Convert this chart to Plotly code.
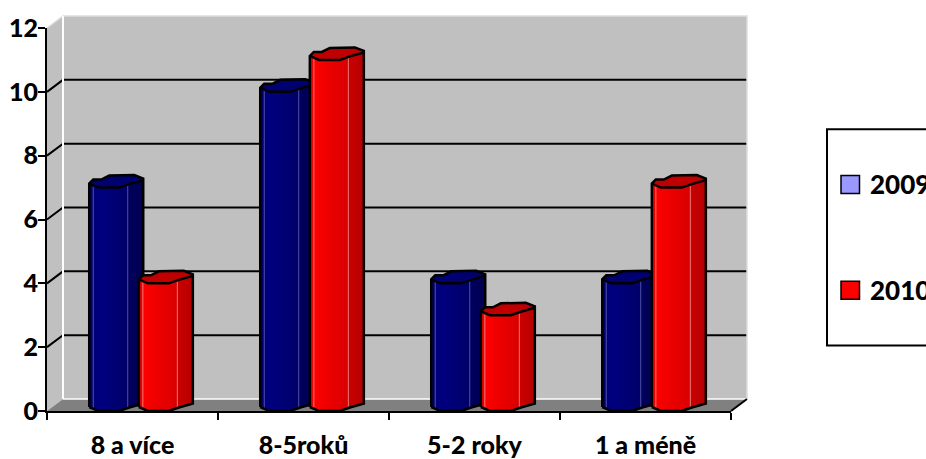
import plotly.graph_objects as go

# Chart data
categories = ["8 a více", "8-5roků", "5-2 roky", "1 a méně"]
series_names = ["2009", "2010"]
values_2009 = [7, 10, 4, 4]
values_2010 = [4, 11, 3, 7]
y_ticks = [0, 2, 4, 6, 8, 10, 12]

# Page and plot geometry (pixels)
WIDTH, HEIGHT = 926, 459
M_L, M_R, M_T, M_B = 47, 195, 28, 47.5
PX_X = WIDTH - M_L - M_R
PX_Y = HEIGHT - M_T - M_B
X_MAX, Y_MAX = 4, 12
UX = X_MAX / PX_X      # data units per horizontal pixel
UY = Y_MAX / PX_Y      # data units per vertical pixel

# Perspective depth of the box, as fractions of the plot area
DX = 16 / PX_X
DY = 12 / PX_Y

# Column cross-section outline, in pixels from the column's left edge and value line
FRONT = [(0, 4), (9, 0), (30, 0), (40, 3.5), (54, 7.5)]
BACK = [(54, 9), (45, 12.5), (20, 12), (12, 8), (4, 8), (0, 4)]
FACE_EDGE = 38.5
COL_W = 54

STYLE = {
    "2009": dict(
        offset=0.247,
        stops=[(0, 0x5c), (4, 0x78), (10, 0x80), (38.5, 0x68), (38.6, 0x60), (54, 0x50)],
        rgb=lambda v: f"rgb(0,0,{v})",
        cap="#000070",
        seam="rgba(150,150,220,0.55)",
        swatch="#9999FF",
    ),
    "2010": dict(
        offset=0.537,
        stops=[(0, 0xd8), (5, 0xff), (12, 0xf4), (38.5, 0xd8), (38.6, 0xcc), (54, 0xb4)],
        rgb=lambda v: f"rgb({v},0,0)",
        cap="#C00000",
        seam="rgba(240,170,170,0.7)",
        swatch="#FF0000",
    ),
}


def lerp_table(table, u):
    for (a, va), (b, vb) in zip(table, table[1:]):
        if u <= b:
            return va + (vb - va) * (u - a) / (b - a) if b > a else vb
    return table[-1][1]


def closed(xs, ys, more_x, more_y):
    xs += more_x + [more_x[0], None]
    ys += more_y + [more_y[0], None]


def poly_trace(xs, ys, fill):
    return go.Scatter(
        x=xs, y=ys, mode="lines", fill="toself", fillcolor=fill,
        line=dict(width=0), hoverinfo="skip",
    )


def line_trace(xs, ys, color, width):
    return go.Scatter(
        x=xs, y=ys, mode="lines", line=dict(color=color, width=width),
        hoverinfo="skip",
    )


def box_path(points, close=True):
    body = " L ".join(f"{x},{y}" for x, y in points)
    return f"M {body}" + (" Z" if close else "")


def box_shape(points, fill=None, line=None, width=0):
    return dict(
        type="path", xref="paper", yref="paper", layer="below",
        path=box_path(points, close=fill is not None),
        fillcolor=fill or "rgba(0,0,0,0)",
        line=dict(color=line or "rgba(0,0,0,0)", width=width),
    )


# Walls and floor of the box sit behind the plot area's edges, in paper fractions
shapes = [
    box_shape([(DX, DY), (1 + DX, DY), (1 + DX, 1 + DY), (DX, 1 + DY)], "#C0C0C0"),
    box_shape([(0, 0), (DX, DY), (DX, 1 + DY), (0, 1)], "#C0C0C0"),
    box_shape([(0, 0), (1, 0), (1 + DX, DY), (DX, DY)], "#808080"),
]

# Gridlines wrap from the left wall onto the back wall
for t in y_ticks[1:-1]:
    f = t / Y_MAX
    shapes.append(box_shape([(0, f), (DX, f + DY), (1 + DX, f + DY)], line="#000000", width=2))

# Pale edges of the walls
shapes.append(box_shape([(0, 1), (DX, 1 + DY), (1 + DX, 1 + DY), (1 + DX, DY)], line="#DDDDDD", width=1.5))
shapes.append(box_shape([(DX, DY), (DX, 1 + DY)], line="#FFFFFF", width=2))
shapes.append(box_shape([(DX, DY), (1 + DX, DY)], line="#FFFFFF", width=1.5))
shapes.append(box_shape([(1, 0), (1 + DX, DY)], line="#000000", width=2))

fig = go.Figure()

# Columns: one filled band per shade, repeated across the categories.
# Each band runs under the next one so no gaps show between them.
series_values = {"2009": values_2009, "2010": values_2010}
for name in series_names:
    st = series_values[name]
    s = STYLE[name]
    edges = sorted(set(
        [i * 2.0 for i in range(0, 27)] + [p[0] for p in FRONT] + [FACE_EDGE, 54]
    ))
    for a, b in zip(edges, edges[1:]):
        xs, ys = [], []
        b2 = min(b + 2, COL_W)
        for i, v in enumerate(st):
            left = i + s["offset"]
            h_a = lerp_table(FRONT, a) * UY
            h_b = lerp_table(FRONT, b2) * UY
            closed(xs, ys,
                   [left + a * UX, left + b2 * UX, left + b2 * UX, left + a * UX],
                   [h_a, h_b, v + h_b, v + h_a])
        shade = round(lerp_table(s["stops"], (a + b) / 2))
        fig.add_trace(poly_trace(xs, ys, s["rgb"](shade)))

    # Top caps
    xs, ys = [], []
    for i, v in enumerate(st):
        left = i + s["offset"]
        pts = FRONT + BACK[:-1]
        closed(xs, ys, [left + p[0] * UX for p in pts], [v + p[1] * UY for p in pts])
    fig.add_trace(poly_trace(xs, ys, s["cap"]))

    # Pale highlights along the face edges
    sx, sy = [], []
    for i, v in enumerate(st):
        left = i + s["offset"]
        for u in (4, FACE_EDGE):
            h = lerp_table(FRONT, u) * UY
            sx += [left + u * UX, left + u * UX, None]
            sy += [h, v + h, None]
    fig.add_trace(line_trace(sx, sy, s["seam"], 1))

    # Black outlines: silhouette plus the front rim of the cap
    ox, oy = [], []
    for i, v in enumerate(st):
        left = i + s["offset"]
        ox += [left + p[0] * UX for p in FRONT]
        oy += [p[1] * UY for p in FRONT]
        ox += [left + p[0] * UX for p in BACK] + [left, None]
        oy += [v + p[1] * UY for p in BACK] + [FRONT[0][1] * UY, None]
        ox += [left + p[0] * UX for p in FRONT] + [None]
        oy += [v + p[1] * UY for p in FRONT] + [None]
    fig.add_trace(line_trace(ox, oy, "#000000", 2.5))

# Legend box and entries, placed in page pixels
def px(x):
    return (x - M_L) / PX_X


def py(y):
    return (HEIGHT - M_B - y) / PX_Y


shapes.append(dict(
    type="rect", xref="paper", yref="paper",
    x0=px(827), x1=px(960), y0=py(346), y1=py(129.5),
    line=dict(color="#000000", width=2), fillcolor="#FFFFFF",
))
annotations = []
for name, cy in zip(series_names, (184.7, 290.7)):
    shapes.append(dict(
        type="rect", xref="paper", yref="paper",
        x0=px(841), x1=px(859.5), y0=py(cy + 9), y1=py(cy - 9),
        line=dict(color="#000000", width=1.5), fillcolor=STYLE[name]["swatch"],
    ))
    annotations.append(dict(
        xref="paper", yref="paper", x=px(868), y=py(cy), xanchor="left", yanchor="middle",
        text=name, showarrow=False,
        font=dict(family="Lato", size=26, weight=900, color="#000000"),
    ))

fig.update_layout(
    width=WIDTH, height=HEIGHT,
    margin=dict(l=M_L, r=M_R, t=M_T, b=M_B, pad=0),
    paper_bgcolor="#FFFFFF", plot_bgcolor="rgba(0,0,0,0)",
    showlegend=False, shapes=shapes, annotations=annotations,
    font=dict(family="Lato", color="#000000"),
    xaxis=dict(
        range=[0, X_MAX], showgrid=False, zeroline=False, automargin=False,
        showline=True, linecolor="#000000", linewidth=2,
        tickmode="array", tickvals=[i + 0.5 for i in range(len(categories))],
        ticktext=categories, ticks="",
        ticklabelstandoff=11,
        tickfont=dict(family="Lato", size=25, weight=900, color="#000000"),
        minor=dict(tickmode="array", tickvals=[0, 1, 2, 3, 4], ticks="outside",
                   ticklen=7, tickwidth=2, tickcolor="#000000", showgrid=False),
    ),
    yaxis=dict(
        range=[0, Y_MAX], showgrid=False, zeroline=False, automargin=False,
        showline=True, linecolor="#000000", linewidth=2,
        tickmode="array", tickvals=y_ticks,
        ticks="outside", ticklen=7, tickwidth=2, tickcolor="#000000",
        ticklabelstandoff=-5,
        tickfont=dict(family="Lato", size=25, weight=900, color="#000000"),
    ),
)

fig.write_html("out.html", config=dict(displayModeBar=False))
